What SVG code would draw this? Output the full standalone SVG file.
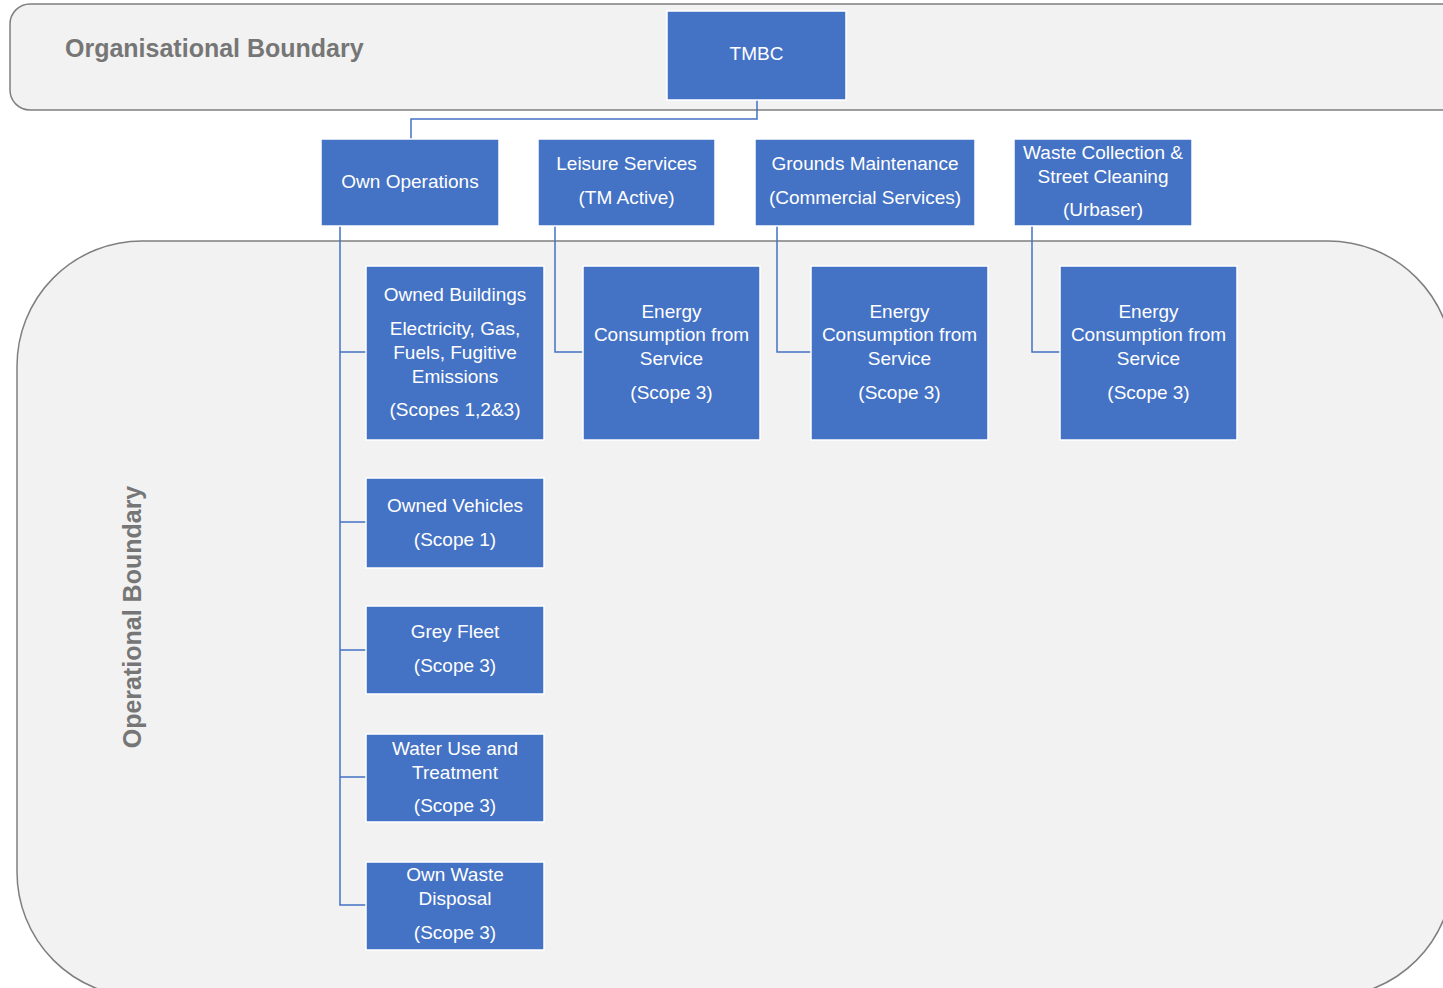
<svg xmlns="http://www.w3.org/2000/svg" width="1443" height="988" viewBox="0 0 1443 988">
<style>
.bnd{fill:#f2f2f2;stroke:#7f7f7f;stroke-width:1.5}
.blab{font-family:"Liberation Sans",Arial,sans-serif;font-weight:bold;font-size:25px;fill:#767676}
.node rect{fill:#4472c4;stroke:#ffffff;stroke-width:1.5}
.node text{font-family:"Liberation Sans",Arial,sans-serif;font-size:19px;fill:#ffffff;text-anchor:middle}
#connectors path{fill:none;stroke:#4472c4;stroke-width:1.5}
</style>
<rect width="1443" height="988" fill="#ffffff"/>
<g id="org-boundary">
<rect class="bnd" x="10" y="4" width="1460" height="106" rx="20" ry="20"/>
<text class="blab" x="65" y="57">Organisational Boundary</text>
</g>
<g id="op-boundary">
<rect class="bnd" x="17" y="241" width="1436" height="756" rx="125" ry="125"/>
<text class="blab" transform="translate(141,617) rotate(-90)" text-anchor="middle">Operational Boundary</text>
</g>
<g id="connectors">
<path d="M757,100 V119 H411 V139"/>
<path d="M340,226 V905 H366 M340,352 H366 M340,522 H366 M340,650 H366 M340,777 H366"/>
<path d="M555,226 V352 H583"/>
<path d="M777,226 V352 H811"/>
<path d="M1032,226 V352 H1060"/>
</g>
<g id="tmbc" class="node"><rect x="667" y="11" width="179" height="89"/><text x="756.5" y="60">TMBC</text></g>
<g id="own-operations" class="node"><rect x="321" y="139" width="178" height="87"/><text x="410" y="188">Own Operations</text></g>
<g id="leisure" class="node"><rect x="538" y="139" width="177" height="87"/><text x="626.5" y="170">Leisure Services</text><text x="626.5" y="204">(TM Active)</text></g>
<g id="grounds" class="node"><rect x="755" y="139" width="220" height="87"/><text x="865" y="170">Grounds Maintenance</text><text x="865" y="204">(Commercial Services)</text></g>
<g id="waste" class="node"><rect x="1014" y="139" width="178" height="87"/><text x="1103" y="159">Waste Collection &amp;</text><text x="1103" y="183">Street Cleaning</text><text x="1103" y="216">(Urbaser)</text></g>
<g id="owned-buildings" class="node"><rect x="366" y="266" width="178" height="174"/><text x="455" y="301">Owned Buildings</text><text x="455" y="335">Electricity, Gas,</text><text x="455" y="359">Fuels, Fugitive</text><text x="455" y="383">Emissions</text><text x="455" y="416">(Scopes 1,2&amp;3)</text></g>
<g id="energy-leisure" class="node"><rect x="583" y="266" width="177" height="174"/><text x="671.5" y="318">Energy</text><text x="671.5" y="341">Consumption from</text><text x="671.5" y="365">Service</text><text x="671.5" y="399">(Scope 3)</text></g>
<g id="energy-grounds" class="node"><rect x="811" y="266" width="177" height="174"/><text x="899.5" y="318">Energy</text><text x="899.5" y="341">Consumption from</text><text x="899.5" y="365">Service</text><text x="899.5" y="399">(Scope 3)</text></g>
<g id="energy-waste" class="node"><rect x="1060" y="266" width="177" height="174"/><text x="1148.5" y="318">Energy</text><text x="1148.5" y="341">Consumption from</text><text x="1148.5" y="365">Service</text><text x="1148.5" y="399">(Scope 3)</text></g>
<g id="owned-vehicles" class="node"><rect x="366" y="478" width="178" height="90"/><text x="455" y="512">Owned Vehicles</text><text x="455" y="546">(Scope 1)</text></g>
<g id="grey-fleet" class="node"><rect x="366" y="606" width="178" height="88"/><text x="455" y="638">Grey Fleet</text><text x="455" y="672">(Scope 3)</text></g>
<g id="water-use" class="node"><rect x="366" y="734" width="178" height="88"/><text x="455" y="755">Water Use and</text><text x="455" y="779">Treatment</text><text x="455" y="812">(Scope 3)</text></g>
<g id="own-waste" class="node"><rect x="366" y="862" width="178" height="88"/><text x="455" y="881">Own Waste</text><text x="455" y="905">Disposal</text><text x="455" y="939">(Scope 3)</text></g>
</svg>
